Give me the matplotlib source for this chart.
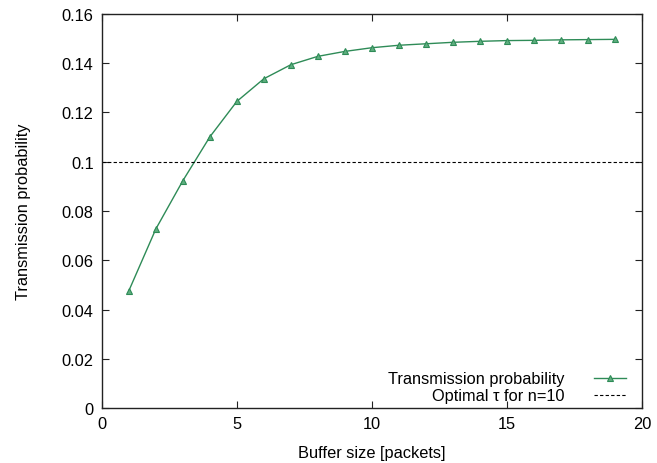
import matplotlib
matplotlib.use("Agg")
import matplotlib.pyplot as plt

buffer_size = list(range(1, 20))
trans_prob = [0.0476, 0.0727, 0.0923, 0.1101, 0.1245, 0.1337, 0.1394, 0.1428,
              0.1448, 0.1463, 0.1473, 0.1479, 0.1485, 0.1489, 0.1492, 0.1493,
              0.1495, 0.1496, 0.1497]
optimal_tau = 0.1
x_ticks = [0, 5, 10, 15, 20]
y_ticks = [0, 0.02, 0.04, 0.06, 0.08, 0.1, 0.12, 0.14, 0.16]
y_labels = ["0", "0.02", "0.04", "0.06", "0.08", "0.1", "0.12", "0.14", "0.16"]

plt.rcParams['font.family'] = ['Liberation Sans', 'DejaVu Sans']
plt.rcParams['font.size'] = 11.8

fig = plt.figure(figsize=(6.57, 4.64), dpi=100)
ax = fig.add_axes([0.155, 0.1185, 0.822, 0.8492])

green = '#2e8b57'
ax.plot(buffer_size, trans_prob, color=green, lw=1.0, marker='^', markersize=4.5,
        markerfacecolor='#5fae7f', markeredgecolor=green, markeredgewidth=0.8,
        label='Transmission probability')
ax.axhline(optimal_tau, color='black', lw=0.8, ls=(0, (3, 2)),
           label='Optimal τ for n=10')

ax.set_xlim(0, 20)
ax.set_ylim(0, 0.16)
ax.set_xticks(x_ticks)
ax.set_yticks(y_ticks)
ax.set_yticklabels(y_labels)
ax.tick_params(direction='in', top=True, right=True, length=5, width=0.8,
               colors='#222222', labelcolor='black', pad=6)
for s in ax.spines.values():
    s.set_linewidth(1.0)
    s.set_color('#222222')

ax.set_xlabel('Buffer size [packets]', labelpad=10)
ax.set_ylabel('Transmission probability', labelpad=22)

leg = ax.legend(loc='lower right', bbox_to_anchor=(0.983, -0.005),
                frameon=False, markerfirst=False,
                handlelength=1.95, handletextpad=1.8, labelspacing=0.12,
                borderaxespad=0.0)

fig.savefig('out.png', dpi=100)
